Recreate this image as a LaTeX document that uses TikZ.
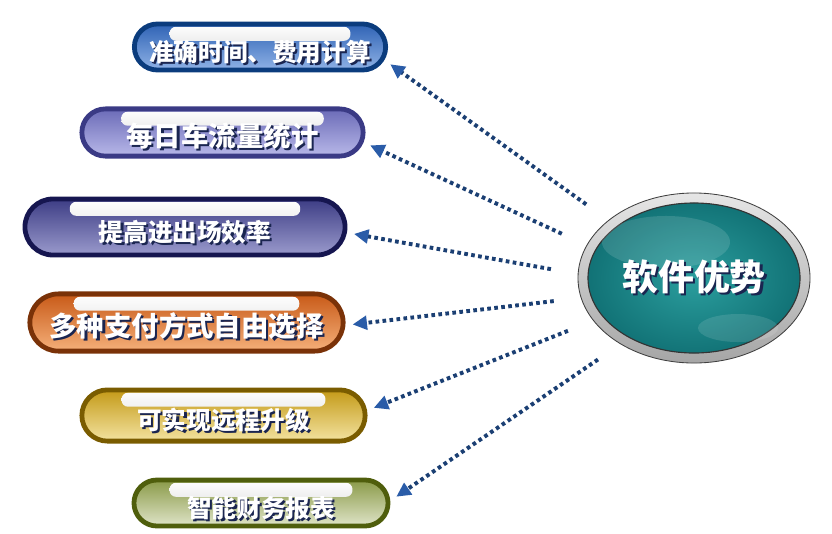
\documentclass[tikz,border=0pt]{standalone}
\usepackage{fontspec}
\newfontfamily\cjk{Noto Sans CJK SC}
\usetikzlibrary{positioning,calc,shapes.geometric,shapes.misc,arrows.meta}
\pgfdeclarelayer{background}
\pgfdeclarelayer{foreground}
\pgfsetlayers{background,main,foreground}

\definecolor{arrowblue}{HTML}{1B3F73}
\definecolor{tipblue}{HTML}{2A5CA8}
\definecolor{shadownavy}{HTML}{1A2550}
\definecolor{tealdark}{HTML}{0F6E72}
\definecolor{teallight}{HTML}{2B9E9E}
% box colours: dark rim, mid, light
\definecolor{timeD}{HTML}{0B3C7D}\definecolor{timeM}{HTML}{2F63B5}\definecolor{timeL}{HTML}{8FB2E6}
\definecolor{flowD}{HTML}{3A3A85}\definecolor{flowM}{HTML}{6B6BB8}\definecolor{flowL}{HTML}{B8B8E8}
\definecolor{gateD}{HTML}{161650}\definecolor{gateM}{HTML}{3D3D85}\definecolor{gateL}{HTML}{9A9ACC}
\definecolor{payD}{HTML}{7A3208}\definecolor{payM}{HTML}{C85A18}\definecolor{payL}{HTML}{F5B07A}
\definecolor{updD}{HTML}{7A5C00}\definecolor{updM}{HTML}{C49A18}\definecolor{updL}{HTML}{F3E3A0}
\definecolor{repD}{HTML}{4F5E0C}\definecolor{repM}{HTML}{8A9A48}\definecolor{repL}{HTML}{DFE4C8}

\newcommand{\shadowed}[1]{\rlap{\hspace{1.6pt}\raisebox{-1.6pt}{\textcolor{shadownavy}{#1}}}\textcolor{white}{#1}}

\begin{document}
\begin{tikzpicture}[x=0.025cm,y=-0.025cm,
					pillbox/.style n args={3}{rounded rectangle, draw=#1, line width=0.12cm, top color=#2, bottom color=#3, inner sep=0pt,
						font=\cjk\bfseries\fontsize{17.5pt}{20pt}\selectfont, text height=24pt, text depth=4pt,
						path picture={
							\shade[top color=white, bottom color=gray!35, rounded corners=0.16cm]
								($(path picture bounding box.north west)!0.14!(path picture bounding box.north east)+(0cm,-0.07cm)$) rectangle
								($(path picture bounding box.north west)!0.86!(path picture bounding box.north east)+(0cm,-0.42cm)$);
						}},
					mainnode/.style={ellipse, minimum width=5.8cm, minimum height=4.25cm, inner sep=0pt,
						top color=gray!20, bottom color=gray!70, draw=gray!50!black, line width=0.6pt,
						font=\cjk\bfseries\fontsize{25.5pt}{28pt}\selectfont,
						path picture={
							\shade[inner color=teallight, outer color=tealdark] (path picture bounding box.center) ellipse [x radius=2.65cm, y radius=1.875cm];
							\draw[gray!40!black, line width=0.8pt] (path picture bounding box.center) ellipse [x radius=2.65cm, y radius=1.875cm];
							\fill[white, opacity=0.13] ($(path picture bounding box.center)+(-0.7cm,0.9cm)$) ellipse [x radius=1.6cm, y radius=0.65cm];
							\fill[white, opacity=0.12] ($(path picture bounding box.center)+(1.1cm,-1.25cm)$) ellipse [x radius=1.0cm, y radius=0.35cm];
						}},
					flow/.style={arrowblue, line width=2.8pt, dash pattern=on 2.6pt off 2.4pt,
						-{Triangle[length=0.36cm, width=0.34cm, color=tipblue]}, shorten <=0.68cm, shorten >=0.18cm},
					]
					\useasboundingbox (0,0) rectangle (832,533);
					%Nodes
					\node[pillbox={timeD}{timeM}{timeL}, minimum width=6.28cm, minimum height=1.15cm]   (time)   at (260,47)    {\shadowed{准确时间、费用计算}};
					\node[pillbox={flowD}{flowM}{flowL}, minimum width=7.03cm, minimum height=1.18cm,
						font=\cjk\bfseries\fontsize{19.5pt}{22pt}\selectfont]                            (flow)   at (222.5,132.5) {\shadowed{每日车流量统计}};
					\node[pillbox={gateD}{gateM}{gateL}, minimum width=8.0cm, minimum height=1.4cm]     (gate)   at (185,227)   {\shadowed{提高进出场效率}};
					\node[pillbox={payD}{payM}{payL}, minimum width=7.83cm, minimum height=1.43cm,
						font=\cjk\bfseries\fontsize{19.5pt}{22pt}\selectfont]                            (pay)    at (186.5,322.5) {\shadowed{多种支付方式自由选择}};
					\node[pillbox={updD}{updM}{updL}, minimum width=7.08cm, minimum height=1.28cm]    (update) at (223.5,415.5) {\shadowed{可实现远程升级}};
					\node[pillbox={repD}{repM}{repL}, minimum width=6.35cm, minimum height=1.15cm]      (report) at (261,503)   {\shadowed{智能财务报表}};
					\node[mainnode]                                                                      (adv)    at (694,278)   {\shadowed{软件优势}};

					\begin{pgfonlayer}{background}
					%Lines
					\draw[flow] (adv.146) -- (time.-6);
					\draw[flow] (adv.163) -- (flow.-4);
					\draw[flow] (adv.178) -- (gate.-2);
					\draw[flow] (adv.190) -- (pay.-1);
					\draw[flow] (adv.203) -- (update.2);
					\draw[flow] (adv.222) -- (report.1);
					\end{pgfonlayer}
				\end{tikzpicture}
\end{document}
